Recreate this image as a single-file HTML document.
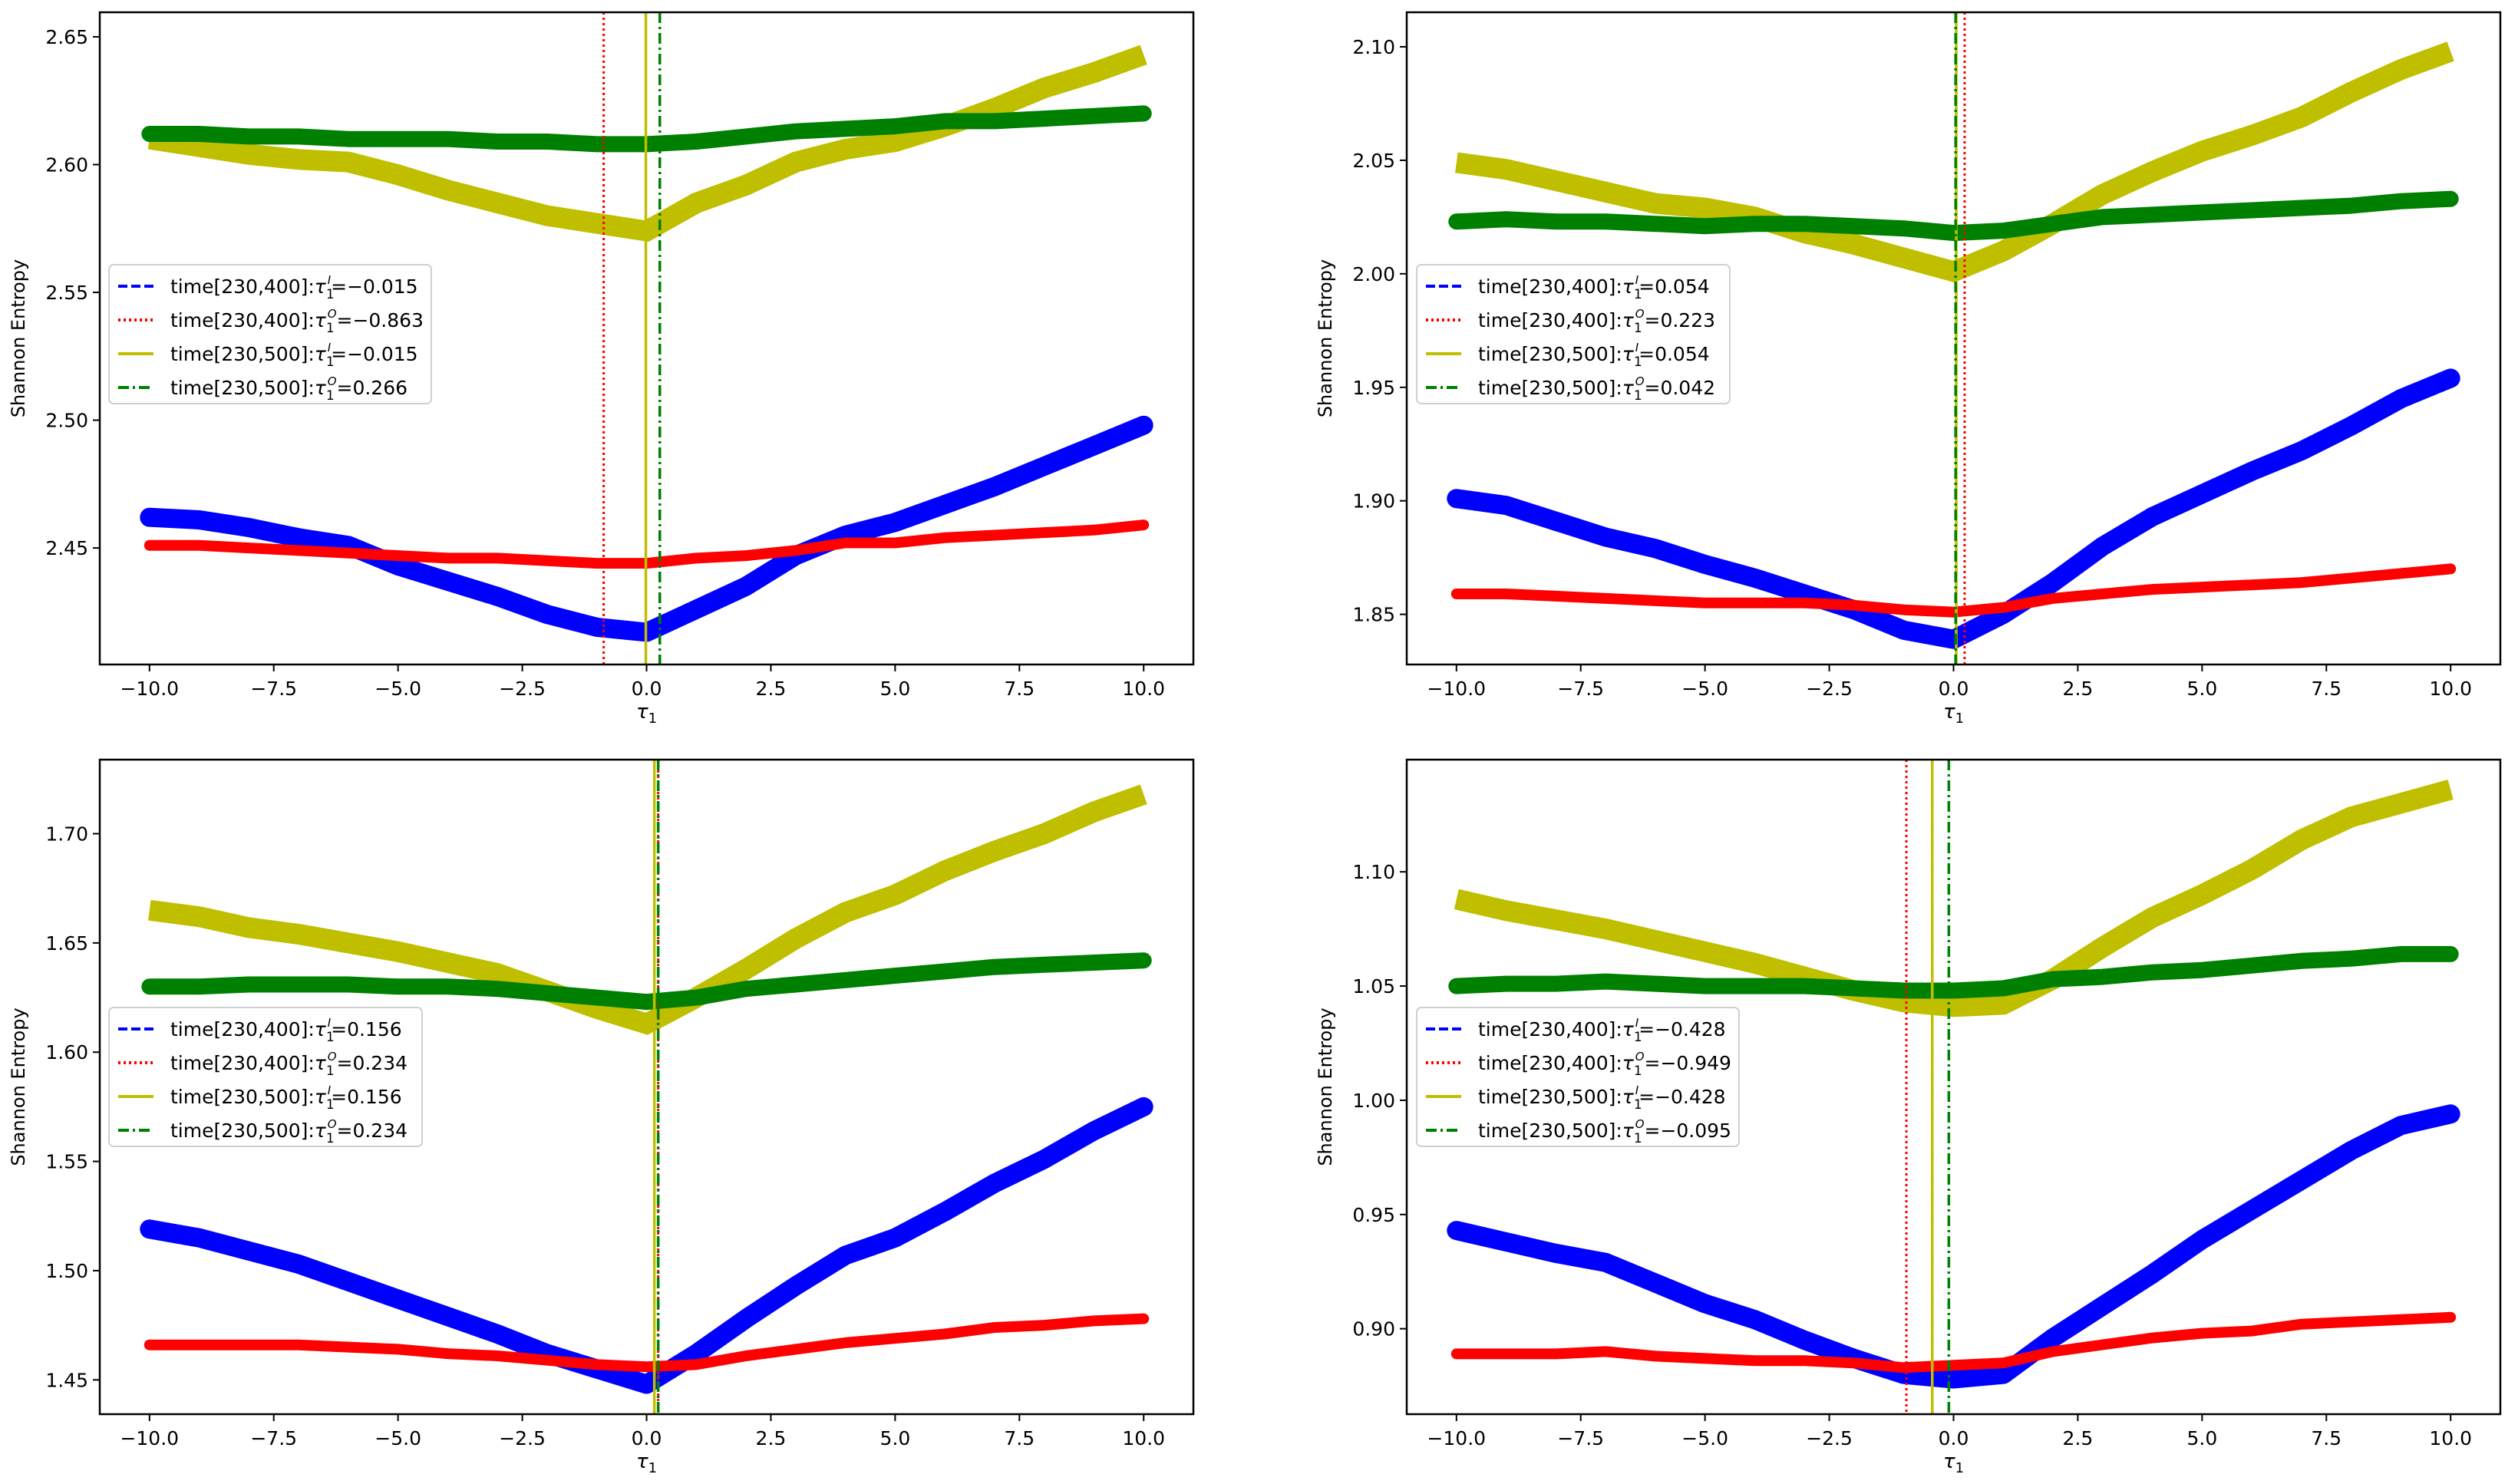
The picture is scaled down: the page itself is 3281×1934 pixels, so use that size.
<!DOCTYPE html>
<html><head><meta charset="utf-8"><style>
body{margin:0;background:#fff}
svg{display:block;font-family:"DejaVu Sans","Liberation Sans",sans-serif}
</style></head><body>
<svg id="fig" width="3281" height="1934" viewBox="0 0 3281 1934" xmlns="http://www.w3.org/2000/svg"></svg>
<script>
const xs = [-10,-9,-8,-7,-6,-5,-4,-3,-2,-1,0,1,2,3,4,5,6,7,8,9,10];
const xTicks = [-10,-7.5,-5,-2.5,0,2.5,5,7.5,10];
const xTickLabels = ["\u221210.0","\u22127.5","\u22125.0","\u22122.5","0.0","2.5","5.0","7.5","10.0"];

const tlYellow = [2.610,2.607,2.604,2.602,2.601,2.596,2.590,2.585,2.580,2.577,2.574,2.585,2.592,2.601,2.606,2.609,2.615,2.622,2.630,2.636,2.643];
const tlGreen = [2.612,2.612,2.611,2.611,2.610,2.610,2.610,2.609,2.609,2.608,2.608,2.609,2.611,2.613,2.614,2.615,2.617,2.617,2.618,2.619,2.620];
const tlBlue = [2.462,2.461,2.458,2.454,2.451,2.443,2.437,2.431,2.424,2.419,2.417,2.426,2.435,2.447,2.455,2.460,2.467,2.474,2.482,2.490,2.498];
const tlRed = [2.451,2.451,2.450,2.449,2.448,2.447,2.446,2.446,2.445,2.444,2.444,2.446,2.447,2.449,2.452,2.452,2.454,2.455,2.456,2.457,2.459];
const tlVLines = [-0.015,-0.863,-0.015,0.266];
const tlLabels = ["=\u22120.015","=\u22120.863","=\u22120.015","=0.266"];
const tlYTicks = [2.45,2.50,2.55,2.60,2.65];

const trYellow = [2.049,2.046,2.041,2.036,2.031,2.029,2.025,2.018,2.013,2.007,2.001,2.010,2.022,2.035,2.045,2.054,2.061,2.069,2.080,2.090,2.098];
const trGreen = [2.023,2.024,2.023,2.023,2.022,2.021,2.022,2.022,2.021,2.020,2.018,2.019,2.022,2.025,2.026,2.027,2.028,2.029,2.030,2.032,2.033];
const trBlue = [1.901,1.898,1.891,1.884,1.879,1.872,1.866,1.859,1.852,1.843,1.839,1.850,1.864,1.880,1.893,1.903,1.913,1.922,1.933,1.945,1.954];
const trRed = [1.859,1.859,1.858,1.857,1.856,1.855,1.855,1.855,1.854,1.852,1.851,1.853,1.857,1.859,1.861,1.862,1.863,1.864,1.866,1.868,1.870];
const trVLines = [0.054,0.223,0.054,0.042];
const trLabels = ["=0.054","=0.223","=0.054","=0.042"];
const trYTicks = [1.85,1.90,1.95,2.00,2.05,2.10];

const blYellow = [1.665,1.662,1.657,1.654,1.650,1.646,1.641,1.636,1.628,1.620,1.613,1.625,1.638,1.652,1.664,1.672,1.683,1.692,1.700,1.710,1.718];
const blGreen = [1.630,1.630,1.631,1.631,1.631,1.630,1.630,1.629,1.627,1.625,1.623,1.625,1.629,1.631,1.633,1.635,1.637,1.639,1.640,1.641,1.642];
const blBlue = [1.519,1.515,1.509,1.503,1.495,1.487,1.479,1.471,1.462,1.455,1.448,1.462,1.478,1.493,1.507,1.515,1.527,1.540,1.551,1.564,1.575];
const blRed = [1.466,1.466,1.466,1.466,1.465,1.464,1.462,1.461,1.459,1.457,1.456,1.457,1.461,1.464,1.467,1.469,1.471,1.474,1.475,1.477,1.478];
const blVLines = [0.156,0.234,0.156,0.234];
const blLabels = ["=0.156","=0.234","=0.156","=0.234"];
const blYTicks = [1.45,1.50,1.55,1.60,1.65,1.70];

const brYellow = [1.088,1.083,1.079,1.075,1.070,1.065,1.060,1.054,1.048,1.043,1.041,1.042,1.053,1.067,1.080,1.090,1.101,1.114,1.124,1.130,1.136];
const brGreen = [1.050,1.051,1.051,1.052,1.051,1.050,1.050,1.050,1.049,1.048,1.048,1.049,1.053,1.054,1.056,1.057,1.059,1.061,1.062,1.064,1.064];
const brBlue = [0.943,0.938,0.933,0.929,0.920,0.911,0.904,0.895,0.887,0.880,0.878,0.880,0.896,0.910,0.924,0.939,0.952,0.965,0.978,0.989,0.994];
const brRed = [0.889,0.889,0.889,0.890,0.888,0.887,0.886,0.886,0.885,0.883,0.884,0.885,0.890,0.893,0.896,0.898,0.899,0.902,0.903,0.904,0.905];
const brVLines = [-0.428,-0.949,-0.428,-0.095];
const brLabels = ["=\u22120.428","=\u22120.949","=\u22120.428","=\u22120.095"];
const brYTicks = [0.90,0.95,1.00,1.05,1.10];

const NS = "http://www.w3.org/2000/svg";
const svg = document.getElementById('fig');
function mk(tag, attrs, parent){
  const e = document.createElementNS(NS, tag);
  for (const k in attrs) e.setAttribute(k, attrs[k]);
  (parent||svg).appendChild(e);
  return e;
}

const panels = [
  {id:'top-left', L:130, R:1555, T:16, B:866, y0:2.4044, y1:2.6596, yt:tlYTicks, Y:tlYellow, G:tlGreen, Bl:tlBlue, Rd:tlRed, V:tlVLines, lab:tlLabels, lg:[142,345]},
  {id:'top-right', L:1833, R:3258, T:16, B:866, y0:1.8279, y1:2.1152, yt:trYTicks, Y:trYellow, G:trGreen, Bl:trBlue, Rd:trRed, V:trVLines, lab:trLabels, lg:[1846,345]},
  {id:'bottom-left', L:130, R:1555, T:990, B:1843, y0:1.4343, y1:1.7339, yt:blYTicks, Y:blYellow, G:blGreen, Bl:blBlue, Rd:blRed, V:blVLines, lab:blLabels, lg:[142,1313]},
  {id:'bottom-right', L:1833, R:3258, T:990, B:1843, y0:0.8626, y1:1.1491, yt:brYTicks, Y:brYellow, G:brGreen, Bl:brBlue, Rd:brRed, V:brVLines, lab:brLabels, lg:[1846,1313]}
];

panels.forEach(p => {
  const g = mk('g', {});
  
  
  const sx = v => p.L + (v + 11) / 22 * (p.R - p.L);
  const sy = v => p.B - (v - p.y0) / (p.y1 - p.y0) * (p.B - p.T);
  const clipId = 'clip-' + p.id;
  const cp = mk('clipPath', {id: clipId}, g);
  mk('rect', {x:p.L, y:p.T, width:p.R-p.L, height:p.B-p.T}, cp);

  const series = [
    {name:'yellow-series', data:p.Y, c:'#bfbf00', w:27, cap:'butt', join:'miter'},
    {name:'green-series', data:p.G, c:'#008000', w:21, cap:'round', join:'round'},
    {name:'blue-series', data:p.Bl, c:'#0000ff', w:25, cap:'round', join:'round'},
    {name:'red-series', data:p.Rd, c:'#ff0000', w:14, cap:'round', join:'round'}
  ];
  const dg = mk('g', {'clip-path':'url(#'+clipId+')'}, g);
  series.forEach(s => {
    const pts = s.data.map((v,i) => sx(xs[i]).toFixed(1)+','+sy(v).toFixed(1)).join(' ');
    const pl = mk('polyline', {points:pts, fill:'none', stroke:s.c, 'stroke-width':s.w, 'stroke-linecap':s.cap, 'stroke-linejoin':s.join}, dg);
    
    
  });
  const vStyles = [
    {c:'#0000ff', d:'12,5', w:3, n:'blue-vline'},
    {c:'#ff0000', d:'3,4', w:3, n:'red-vline'},
    {c:'#bfbf00', d:'', w:3.5, n:'yellow-vline'},
    {c:'#008000', d:'14,5,3,5', w:3.5, n:'green-vline'}
  ];
  p.V.forEach((v,i) => {
    const st = vStyles[i];
    const ln = mk('line', {x1:sx(v), x2:sx(v), y1:p.T, y2:p.B, stroke:st.c, 'stroke-width':st.w}, dg);
    if (st.d) ln.setAttribute('stroke-dasharray', st.d);
    
    
  });
  const fr = mk('rect', {x:p.L, y:p.T, width:p.R-p.L, height:p.B-p.T, fill:'none', stroke:'#000', 'stroke-width':2.5}, g);
  
  

  xTicks.forEach((v,i) => {
    mk('line', {x1:sx(v), x2:sx(v), y1:p.B, y2:p.B+9, stroke:'#000', 'stroke-width':2}, g);
    const t = mk('text', {x:sx(v), y:p.B+40, 'font-size':25, 'text-anchor':'middle', fill:'#000'}, g);
    t.textContent = xTickLabels[i];
    
    
  });
  p.yt.forEach(v => {
    mk('line', {x1:p.L-9, x2:p.L, y1:sy(v), y2:sy(v), stroke:'#000', 'stroke-width':2}, g);
    const t = mk('text', {x:p.L-15, y:sy(v)+9, 'font-size':25, 'text-anchor':'end', fill:'#000'}, g);
    t.textContent = v.toFixed(2);
    
    
  });
  const xl = mk('text', {x:(p.L+p.R)/2, y:p.B+70, 'font-size':26, 'text-anchor':'middle', 'font-style':'italic', fill:'#000'}, g);
  xl.innerHTML = 'τ<tspan font-size="18" dy="6" font-style="normal">1</tspan>';
  
  
  const yx = p.L - 98, yy = (p.T+p.B)/2;
  const yl = mk('text', {x:yx, y:yy, 'font-size':24, 'text-anchor':'middle', transform:'rotate(-90 '+yx+' '+yy+')', fill:'#000'}, g);
  yl.textContent = 'Shannon Entropy';
  
  

  const lx = p.lg[0], ly = p.lg[1];
  const lgG = mk('g', {}, g);
  
  
  const w = p.lab[0].length > 6 || p.lab[1].length > 6 ? 420 : 408;
  mk('rect', {x:lx, y:ly, width:w, height:181, rx:6, fill:'#fff', 'fill-opacity':0.85, stroke:'#d0d0d0', 'stroke-width':2}, lgG);
  const times = ['400','400','500','500'];
  const sups = ['I','O','I','O'];
  for (let i=0;i<4;i++){
    const ry = ly + 28 + i*44;
    const st = vStyles[i];
    const ln = mk('line', {x1:lx+12, x2:lx+58, y1:ry, y2:ry, stroke:st.c, 'stroke-width':4}, lgG);
    if (st.d) ln.setAttribute('stroke-dasharray', st.d);
    const t = mk('text', {x:lx+80, y:ry+9, 'font-size':25, fill:'#000'}, lgG);
    t.innerHTML = 'time[230,' + times[i] + ']:<tspan font-style="italic">τ</tspan><tspan font-size="17" dy="7">1</tspan><tspan font-size="15" font-style="italic" dx="-9" dy="-19">' + sups[i] + '</tspan><tspan dy="12">' + p.lab[i] + '</tspan>';
    
    
  }
});
</script>
</body></html>
